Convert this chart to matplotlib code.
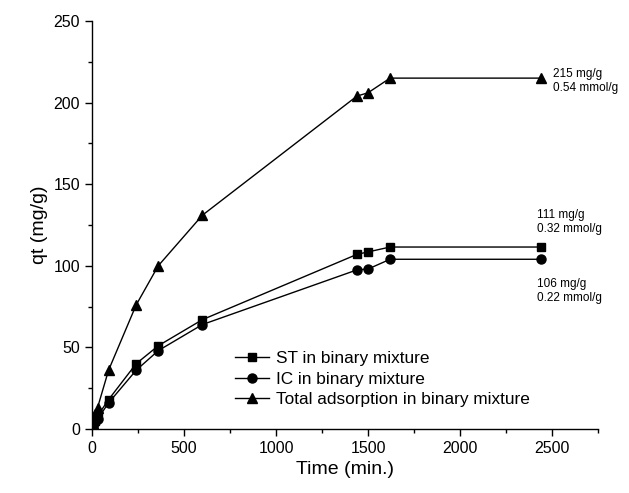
import matplotlib.pyplot as plt
from matplotlib.ticker import MultipleLocator

plt.rcParams['font.family'] = ['Liberation Sans', 'DejaVu Sans']

# contact time (min.)
time = [5, 15, 30, 90, 240, 360, 600, 1440, 1500, 1620, 2440]
# adsorbed amounts (mg/g)
st_binary = [2, 5, 8, 18, 40, 51, 67, 107, 108.5, 111.5, 111.5]
ic_binary = [1, 4, 6, 16, 36, 48, 64, 97.5, 98, 104, 104]
total_binary = [3, 9, 13, 36, 76, 100, 131, 204, 206, 215, 215]

fig = plt.figure(figsize=(6.29, 4.93), dpi=100)
ax = fig.add_axes([92/629, 1 - 429/493, (598 - 92)/629, (429 - 21)/493])

ax.plot(time, st_binary, 'k-s', lw=1, ms=6, label='ST in binary mixture')
ax.plot(time, ic_binary, 'k-o', lw=1, ms=6.5, label='IC in binary mixture')
ax.plot(time, total_binary, 'k-^', lw=1, ms=7, label='Total adsorption in binary mixture')

ax.set_xlim(0, 2750)
ax.set_ylim(0, 250)
ax.xaxis.set_major_locator(MultipleLocator(500))
ax.xaxis.set_minor_locator(MultipleLocator(250))
ax.yaxis.set_major_locator(MultipleLocator(50))
ax.yaxis.set_minor_locator(MultipleLocator(25))
ax.tick_params(which='major', direction='out', length=5, width=1, labelsize=11.5)
ax.tick_params(which='minor', direction='out', length=3, width=1)
for s in ['top', 'right']:
    ax.spines[s].set_visible(False)
for s in ['left', 'bottom']:
    ax.spines[s].set_linewidth(1)

ax.set_xlabel('Time (min.)', fontsize=14)
ax.set_ylabel('qt (mg/g)', fontsize=14)

ax.text(2505, 213, '215 mg/g\n0.54 mmol/g', fontsize=8.5, va='center', ha='left')
ax.text(2418, 127, '111 mg/g\n0.32 mmol/g', fontsize=8.5, va='center', ha='left')
ax.text(2418, 84.5, '106 mg/g\n0.22 mmol/g', fontsize=8.5, va='center', ha='left')

ax.legend(loc='lower left', bbox_to_anchor=(0.265, 0.033), frameon=False,
          fontsize=12.4, handlelength=2, handletextpad=0.4, labelspacing=0.3,
          borderpad=0)

fig.savefig('out.png', dpi=100)
